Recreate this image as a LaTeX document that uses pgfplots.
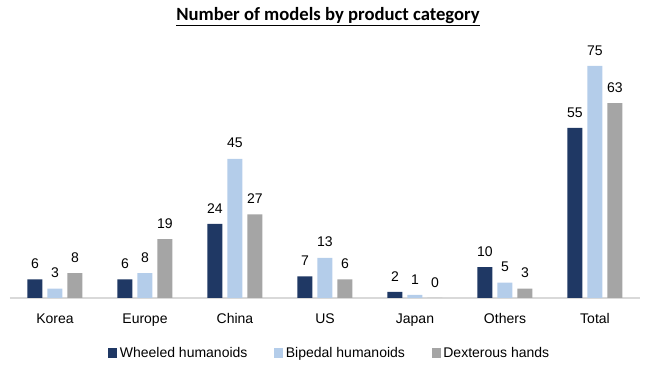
\documentclass[border=0pt]{standalone}
\usepackage{pgfplots}
\pgfplotsset{compat=1.18}
\usepackage{fontspec}
\setmainfont{Liberation Sans}
\newfontfamily\titlefont{Carlito}
\definecolor{navy}{HTML}{1F3864}
\definecolor{lblue}{HTML}{B4CDEA}
\definecolor{gry}{HTML}{A5A5A5}
\definecolor{axgray}{HTML}{D9D9D9}
\begin{document}
\begin{tikzpicture}
\path[use as bounding box] (0,0) rectangle (493.5pt,277.5pt);
\begin{axis}[
  at={(7.5pt,54pt)}, anchor=south west,
  scale only axis, width=472.5pt, height=185.6pt,
  xmin=-0.5, xmax=6.5, ymin=0, ymax=80,
  ybar=3.75pt, bar width=11.25pt,
  axis x line*=bottom, axis y line=none,
  x axis line style={-, color=axgray, line width=0.9pt},
  xtick=data, xticklabels={Korea,Europe,China,US,Japan,Others,Total},
  major tick length=0pt,
  /pgf/number format/assume math mode=true,
  xticklabel style={font=\fontsize{10.5}{12}\selectfont, yshift=-8pt},
  nodes near coords,
  every node near coord/.append style={font=\fontsize{10.5}{12}\selectfont, yshift=4.5pt, text=black},
  legend columns=3,
  legend style={draw=none, at={(240pt,-41.25pt)}, anchor=center, font=\fontsize{10.5}{12}\selectfont,
    /tikz/every even column/.append style={column sep=18pt}},
  legend image code/.code={\fill[#1] (0pt,-3.4pt) rectangle (6.8pt,3.4pt);},
  clip=false,
]
\addplot[fill=navy, draw=none] coordinates {(0,6) (1,6) (2,24) (3,7) (4,2) (5,10) (6,55)};
\addplot[fill=lblue, draw=none] coordinates {(0,3) (1,8) (2,45) (3,13) (4,1) (5,5) (6,75)};
\addplot[fill=gry, draw=none] coordinates {(0,8) (1,19) (2,27) (3,6) (4,0) (5,3) (6,63)};
\legend{Wheeled humanoids, Bipedal humanoids, Dexterous hands}
\end{axis}
\node at (246pt,264.75pt) {\titlefont\bfseries\fontsize{14}{16}\selectfont\underline{Number of models by product category}};
\end{tikzpicture}
\end{document}
